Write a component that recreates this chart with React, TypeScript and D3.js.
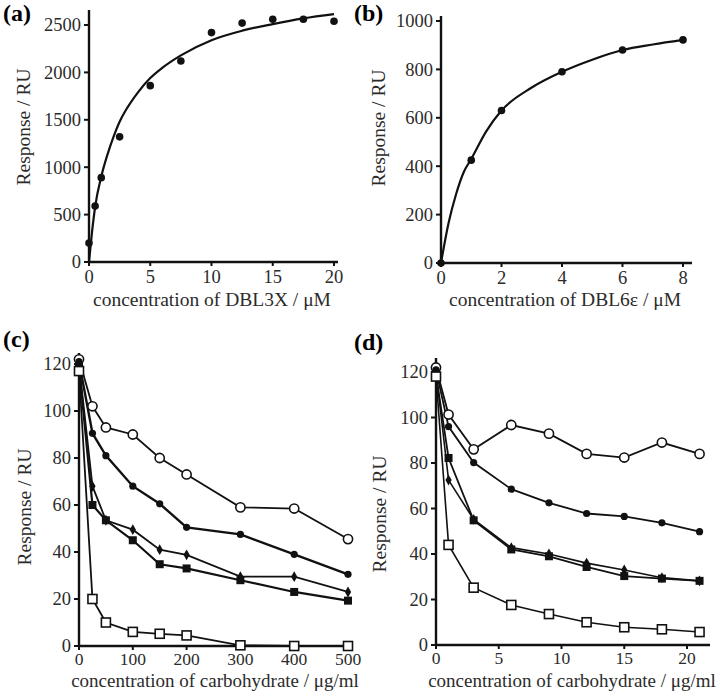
import * as d3 from 'd3';

const FONT = '"Liberation Serif", "Times New Roman", serif';
const INK = '#111';
const GREY = '#2b2b2b';

// (a) DBL3X binding
const aConc = [0, 0.5, 1, 2.5, 5, 7.5, 10, 12.5, 15, 17.5, 20];
const aResp = [200, 590, 890, 1320, 1860, 2120, 2420, 2520, 2560, 2560, 2540];
const aFitConc = [0, 0.25, 0.5, 1, 1.5, 2, 2.5, 3, 4, 5, 6, 7.5, 10, 12.5, 15, 17.5, 20];
const aFitResp = [0, 320, 580, 900, 1130, 1320, 1480, 1600, 1790, 1940, 2050, 2180, 2340, 2440, 2510, 2570, 2615];
const aXTicks = [0, 5, 10, 15, 20];
const aYTicks = [0, 500, 1000, 1500, 2000, 2500];

// (b) DBL6e binding
const bConc = [0, 1, 2, 4, 6, 8];
const bResp = [0, 425, 630, 790, 880, 922];
const bFitConc = [0, 0.25, 0.5, 0.75, 1, 1.5, 2, 3, 4, 5, 6, 7, 8];
const bFitResp = [0, 165, 285, 375, 430, 545, 630, 725, 790, 840, 880, 903, 922];
const bXTicks = [0, 2, 4, 6, 8];
const bYTicks = [0, 200, 400, 600, 800, 1000];

// (c) inhibition, carbohydrate ug/ml
const cConc = [0, 25, 50, 100, 150, 200, 300, 400, 500];
const cOpenCircle = [122, 102, 93, 90, 80, 73, 59, 58.5, 45.5];
const cFilledCircle = [121, 90.5, 81, 68, 60.5, 50.5, 47.5, 39, 30.5];
const cDiamond = [120, 68, 53.5, 49.5, 41, 38.8, 29.5, 29.5, 23];
const cFilledSquare = [119, 60, 53.5, 45, 34.8, 33, 28, 23, 19.3];
const cOpenSquare = [117, 20, 10, 6, 5.2, 4.5, 0.3, 0, 0];
const cXTicks = [0, 100, 200, 300, 400, 500];

// (d) inhibition, carbohydrate ug/ml
const dConc = [0, 1, 3, 6, 9, 12, 15, 18, 21];
const dOpenCircle = [122, 101.3, 86, 96.7, 92.9, 84, 82.4, 89, 84];
const dFilledCircle = [121, 96, 80.2, 68.5, 62.5, 57.8, 56.5, 53.7, 49.8];
const dDiamond = [120, 72.5, 55.2, 42.8, 40, 36, 33, 29.6, 28.2];
const dFilledSquare = [119, 82.2, 54.8, 42, 39, 34.3, 30.3, 29.2, 28.2];
const dOpenSquare = [118, 44, 25.2, 17.6, 13.6, 10, 7.8, 6.9, 5.7];
const dXTicks = [0, 5, 10, 15, 20];
const inhibYTicks = [0, 20, 40, 60, 80, 100, 120];

type Kind = 'openCircle' | 'filledCircle' | 'diamond' | 'filledSquare' | 'openSquare' | 'dot';

function Marker({ kind, cx, cy }: { kind: Kind; cx: number; cy: number }) {
    if (kind === 'dot') return <circle cx={cx} cy={cy} r={3.8} fill={INK} />;
    if (kind === 'openCircle')
        return <circle cx={cx} cy={cy} r={4.6} fill="#fff" stroke={INK} strokeWidth={1.6} />;
    if (kind === 'filledCircle') return <circle cx={cx} cy={cy} r={3.6} fill={INK} />;
    if (kind === 'filledSquare')
        return <rect x={cx - 4} y={cy - 4} width={8} height={8} fill={INK} />;
    if (kind === 'openSquare')
        return (
            <rect x={cx - 4.5} y={cy - 4.5} width={9} height={9} fill="#fff" stroke={INK} strokeWidth={1.6} />
        );
    const p = d3.symbol(d3.symbolDiamond, 34)();
    return <path d={p ?? ''} transform={`translate(${cx},${cy})`} fill={INK} />;
}

type Scale = d3.ScaleLinear<number, number>;

function Axes({ x, y, xTicks, yTicks, xEnd, yTop, tickGap = 21, tickSize = 18.5 }: {
    x: Scale; y: Scale; xTicks: number[]; yTicks: number[]; xEnd: number; yTop: number;
    tickGap?: number; tickSize?: number;
}) {
    const ox = x(0);
    const oy = y(0);
    return (
        <g fontFamily={FONT} fill={GREY}>
            <line x1={ox} x2={xEnd} y1={oy} y2={oy} stroke={INK} strokeWidth={2.4} />
            <line x1={ox} x2={ox} y1={oy + 1} y2={yTop} stroke={INK} strokeWidth={2.4} />
            {xTicks.map((t) => (
                <g key={`x${t}`}>
                    <line x1={x(t)} x2={x(t)} y1={oy} y2={oy + 4} stroke={INK} strokeWidth={2} />
                    <text x={x(t)} y={oy + tickGap} fontSize={tickSize} textAnchor="middle">{t}</text>
                </g>
            ))}
            {yTicks.map((t) => (
                <g key={`y${t}`}>
                    <line x1={ox - 5} x2={ox} y1={y(t)} y2={y(t)} stroke={INK} strokeWidth={2} />
                    <text x={ox - 8} y={y(t)} dy="0.35em" fontSize={18.5} textAnchor="end">{t}</text>
                </g>
            ))}
        </g>
    );
}

function Titles({ label, lx, ly, yx, yy, xx, xy, xTitle, xSize = 19.5 }: {
    label: string; lx: number; ly: number; yx: number; yy: number; xx: number; xy: number; xTitle: string;
    xSize?: number;
}) {
    return (
        <g fontFamily={FONT}>
            <text x={lx} y={ly} fontSize={24} fontWeight="bold" fill="#000">{label}</text>
            <text transform={`translate(${yx},${yy}) rotate(-90)`} textAnchor="middle" fontSize={19.5} fill={GREY}>
                Response / RU
            </text>
            <text x={xx} y={xy} textAnchor="middle" fontSize={xSize} fill={GREY}>{xTitle}</text>
        </g>
    );
}

function BindingPanel({ x, y, conc, resp, fitConc, fitResp, xTicks, yTicks, xEnd, yTop }: {
    x: Scale; y: Scale; conc: number[]; resp: number[]; fitConc: number[]; fitResp: number[];
    xTicks: number[]; yTicks: number[]; xEnd: number; yTop: number;
}) {
    const line = d3
        .line<number>()
        .x((d) => x(d))
        .y((_d, i) => y(fitResp[i]))
        .curve(d3.curveMonotoneX);
    return (
        <g>
            <Axes x={x} y={y} xTicks={xTicks} yTicks={yTicks} xEnd={xEnd} yTop={yTop} />
            <path d={line(fitConc) ?? ''} fill="none" stroke={INK} strokeWidth={2.2} />
            {conc.map((c, i) => (
                <Marker key={i} kind="dot" cx={x(c)} cy={y(resp[i])} />
            ))}
        </g>
    );
}

function InhibitionPanel({ x, y, conc, series, xTicks, xEnd, yTop }: {
    x: Scale; y: Scale; conc: number[]; series: { kind: Kind; values: number[]; width: number }[];
    xTicks: number[]; xEnd: number; yTop: number;
}) {
    return (
        <g>
            <Axes x={x} y={y} xTicks={xTicks} yTicks={inhibYTicks} xEnd={xEnd} yTop={yTop}
                tickGap={18.5} tickSize={17.5} />
            {series.map((s) => {
                const line = d3
                    .line<number>()
                    .x((d) => x(d))
                    .y((_d, i) => y(s.values[i]));
                return <path key={s.kind} d={line(conc) ?? ''} fill="none" stroke={INK} strokeWidth={s.width} />;
            })}
            {series.map((s) =>
                conc.map((c, i) => <Marker key={`${s.kind}${i}`} kind={s.kind} cx={x(c)} cy={y(s.values[i])} />),
            )}
        </g>
    );
}

export default function App() {
    const ax = d3.scaleLinear().domain([0, 20]).range([89, 334]);
    const ay = d3.scaleLinear().domain([0, 2500]).range([262, 25]);
    const bx = d3.scaleLinear().domain([0, 8]).range([441, 683]);
    const by = d3.scaleLinear().domain([0, 1000]).range([263, 21]);
    const cx = d3.scaleLinear().domain([0, 500]).range([79, 348]);
    const cy = d3.scaleLinear().domain([0, 120]).range([646, 364]);
    const dx = d3.scaleLinear().domain([0, 20]).range([436, 687]);
    const dy = d3.scaleLinear().domain([0, 120]).range([645, 372]);

    const cSeries = [
        { kind: 'openCircle' as Kind, values: cOpenCircle, width: 1.8 },
        { kind: 'filledCircle' as Kind, values: cFilledCircle, width: 2.4 },
        { kind: 'diamond' as Kind, values: cDiamond, width: 1.8 },
        { kind: 'filledSquare' as Kind, values: cFilledSquare, width: 2.2 },
        { kind: 'openSquare' as Kind, values: cOpenSquare, width: 1.8 },
    ];
    const dSeries = [
        { kind: 'openCircle' as Kind, values: dOpenCircle, width: 1.8 },
        { kind: 'filledCircle' as Kind, values: dFilledCircle, width: 1.8 },
        { kind: 'diamond' as Kind, values: dDiamond, width: 1.6 },
        { kind: 'filledSquare' as Kind, values: dFilledSquare, width: 1.8 },
        { kind: 'openSquare' as Kind, values: dOpenSquare, width: 1.6 },
    ];

    return (
        <svg width={723} height={696} style={{ position: 'absolute', left: 0, top: 0, background: '#fff' }}>
            <rect width={723} height={696} fill="#fff" />
            <BindingPanel x={ax} y={ay} conc={aConc} resp={aResp} fitConc={aFitConc} fitResp={aFitResp}
                xTicks={aXTicks} yTicks={aYTicks} xEnd={338} yTop={10} />
            <Titles label="(a)" lx={3} ly={21} yx={30} yy={127} xx={212} xy={306}
                xTitle="concentration of DBL3X / μM" />

            <BindingPanel x={bx} y={by} conc={bConc} resp={bResp} fitConc={bFitConc} fitResp={bFitResp}
                xTicks={bXTicks} yTicks={bYTicks} xEnd={692} yTop={16} />
            <Titles label="(b)" lx={354} ly={21} yx={385} yy={128} xx={565} xy={306}
                xTitle="concentration of DBL6ε / μM" />

            <InhibitionPanel x={cx} y={cy} conc={cConc} series={cSeries} xTicks={cXTicks} xEnd={353} yTop={353} />
            <Titles label="(c)" lx={3} ly={347} yx={31} yy={507} xx={215} xy={687} xSize={19}
                xTitle="concentration of carbohydrate / μg/ml" />

            <InhibitionPanel x={dx} y={dy} conc={dConc} series={dSeries} xTicks={dXTicks} xEnd={710} yTop={358} />
            <Titles label="(d)" lx={354} ly={350} yx={386} yy={514} xx={572} xy={687} xSize={19}
                xTitle="concentration of carbohydrate / μg/ml" />
        </svg>
    );
}
